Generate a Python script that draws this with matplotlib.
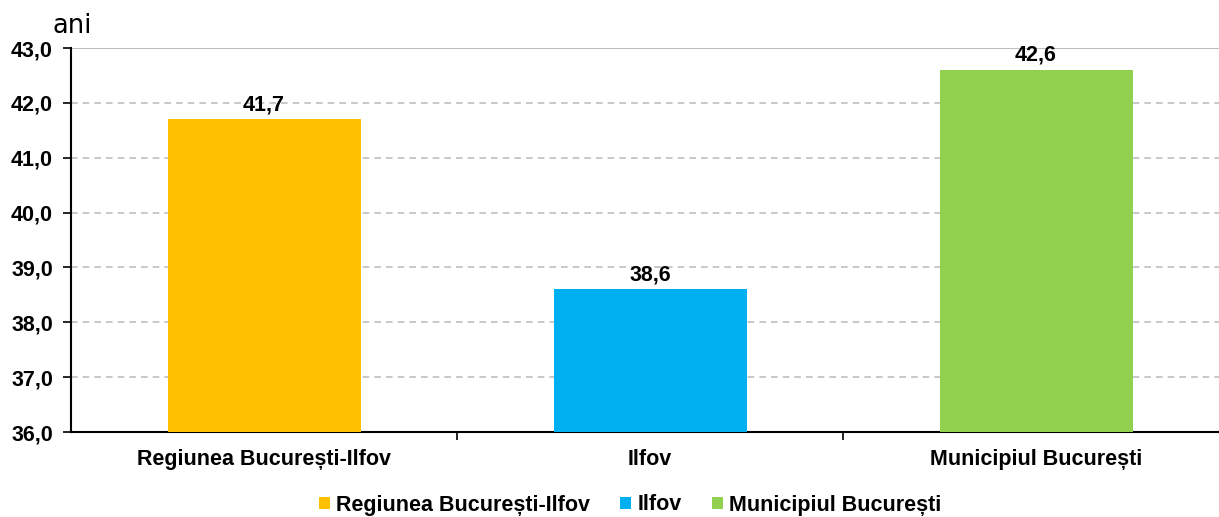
import numpy as np
import matplotlib.pyplot as plt

# Data
categories = ['Regiunea București-Ilfov', 'Ilfov', 'Municipiul București']
values = [41.7, 38.6, 42.6]
colors = ['#FFC000', '#00B0F0', '#92D050']
yticks = [36.0, 37.0, 38.0, 39.0, 40.0, 41.0, 42.0, 43.0]

plt.rcParams['font.family'] = ['Liberation Sans', 'DejaVu Sans']
FS = 15.5

W, H = 1219, 517
fig = plt.figure(figsize=(W / 100, H / 100), dpi=100)
ax = fig.add_axes([71 / W, 1 - 432 / H, (1219 - 71) / W, (432 - 48) / H])

x = np.arange(len(categories))
bars = ax.bar(x, values, width=0.5, color=colors, label=categories, zorder=3)

for xi, v in zip(x, values):
    ax.annotate(f'{v:.1f}'.replace('.', ','), (xi, v), xytext=(0, 3),
                textcoords='offset points', ha='center', va='bottom',
                fontsize=FS, fontweight='bold')

ax.set_xlim(-0.5, 2.5 - 10 / 386)
ax.set_ylim(36, 43)
ax.set_yticks(yticks)
ax.set_yticklabels([f'{t:.1f}'.replace('.', ',') for t in yticks],
                   fontsize=FS, fontweight='bold')

# category labels centered, tick marks at boundaries
ax.set_xticks([0.5, 1.5])
ax.set_xticklabels([])
ax.set_xticks(x, minor=True)
ax.set_xticklabels(categories, minor=True, fontsize=FS, fontweight='bold')
ax.tick_params(axis='x', which='minor', length=0, pad=12)
ax.tick_params(axis='x', which='major', length=6, width=1.2, direction='out')
ax.tick_params(axis='y', length=6, width=1.2, direction='out', pad=7)

for yt in yticks[1:-1]:
    ax.axhline(yt, color='#BFBFBF', linestyle=(0, (4, 3)), linewidth=1.2, zorder=1)
ax.axhline(43, color='#BFBFBF', linewidth=1.5, zorder=1)

for s in ['top', 'right']:
    ax.spines[s].set_visible(False)
ax.spines['left'].set_linewidth(1.5)
ax.spines['bottom'].set_linewidth(1.5)

fig.text(52 / W, 1 - 26 / H, 'ani', fontsize=18.5, family='DejaVu Sans',
         ha='left', va='center')

fig.legend(handles=bars.patches, labels=categories, loc='center',
           bbox_to_anchor=(630 / W, 1 - 505 / H), ncol=3, frameon=False,
           prop={'size': FS, 'weight': 'bold'}, handlelength=0.5,
           handleheight=0.5, handletextpad=0.3, columnspacing=1.4)

fig.savefig('out.png', dpi=100)
